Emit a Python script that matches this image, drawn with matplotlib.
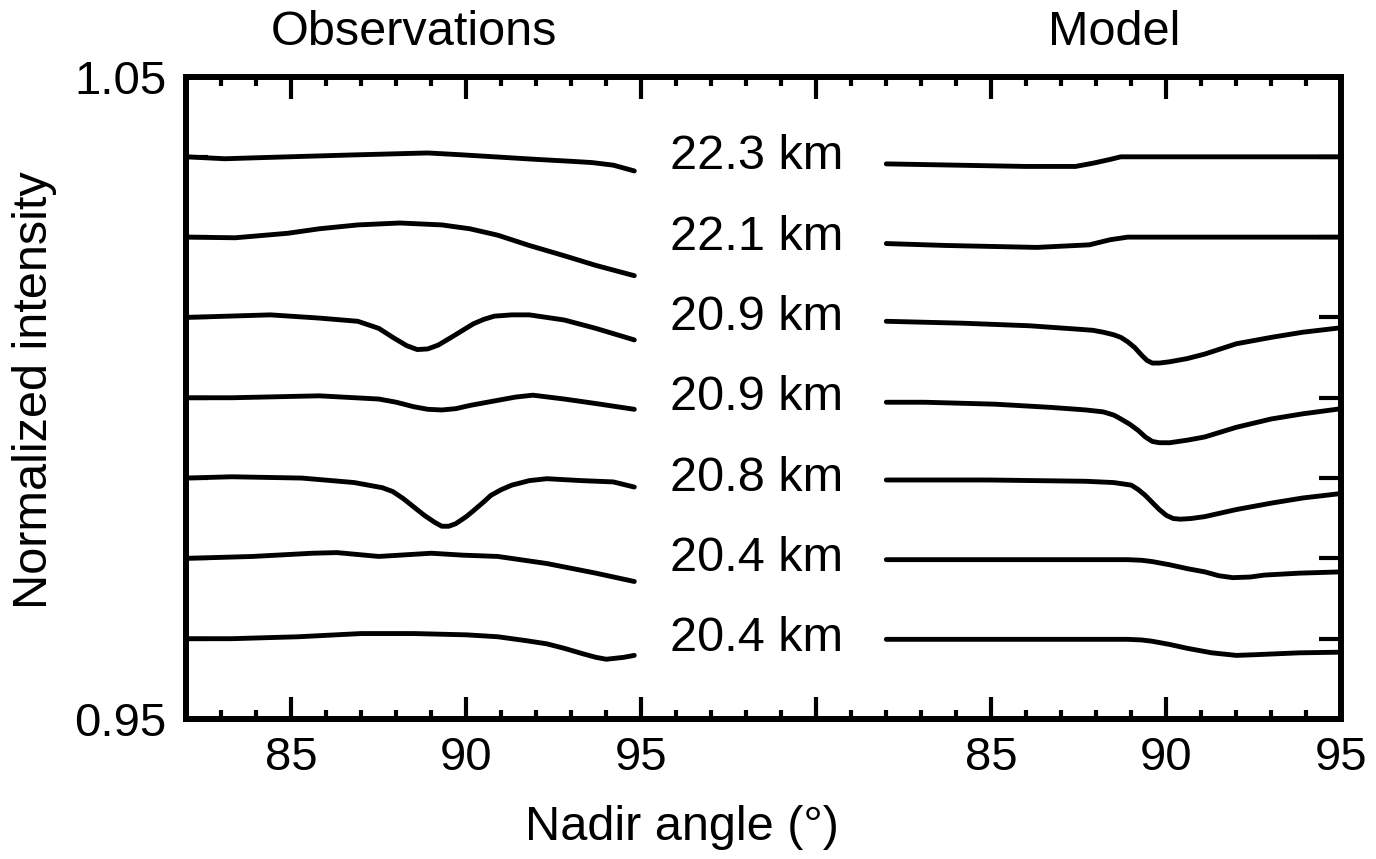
import matplotlib
matplotlib.use("Agg")
import matplotlib.pyplot as plt
import matplotlib.transforms as mtransforms
import numpy as np
from matplotlib.ticker import FixedFormatter, FixedLocator, MultipleLocator

plt.rcParams["font.family"] = ["Liberation Sans", "DejaVu Sans"]

# Altitudes (top to bottom) and vertical offsets of the stacked curves
altitude_labels = ["22.3 km", "22.1 km", "20.9 km", "20.9 km", "20.8 km", "20.4 km", "20.4 km"]
offsets = [0.0375, 0.025, 0.0125, 0.0, -0.0125, -0.025, -0.0375]

# Observations : nadir angle (°) / normalized intensity
obs1_x = [82.0, 83.1, 84.3, 86.8, 88.9, 89.9, 90.8, 92.0, 93.0, 93.6, 94.2, 94.8]
obs1_y = [1.0000, 0.9997, 0.9999, 1.0003, 1.0006, 1.0003, 1.0000, 0.9996, 0.9993, 0.9991, 0.9987, 0.9978]
obs2_x = [82.0, 83.4, 84.9, 85.8, 86.9, 88.1, 89.3, 90.1, 90.9, 91.8, 92.8, 93.7, 94.8]
obs2_y = [1.0000, 0.9999, 1.0006, 1.0013, 1.0019, 1.0022, 1.0019, 1.0013, 1.0003, 0.9987, 0.9971, 0.9956, 0.9940]
obs3_x = [82.0, 84.4, 85.8, 86.9, 87.5, 87.9, 88.3, 88.6, 88.9, 89.2, 89.6, 89.9, 90.2, 90.5, 90.8, 91.3,
          91.8, 92.8, 93.7, 94.8]
obs3_y = [1.0000, 1.0004, 0.9999, 0.9994, 0.9983, 0.9969, 0.9956, 0.9950, 0.9951, 0.9957, 0.9970, 0.9980,
          0.9990, 0.9997, 1.0002, 1.0004, 1.0004, 0.9996, 0.9983, 0.9965]
obs4_x = [82.0, 83.3, 85.8, 87.5, 88.0, 88.5, 88.9, 89.3, 89.7, 90.1, 90.5, 90.9, 91.4, 91.9, 92.8, 93.7, 94.8]
obs4_y = [1.0000, 1.0000, 1.0003, 0.9998, 0.9993, 0.9986, 0.9982, 0.9981, 0.9983, 0.9988, 0.9992, 0.9996,
          1.0001, 1.0004, 0.9998, 0.9991, 0.9982]
obs5_x = [82.0, 83.3, 85.3, 86.8, 87.6, 87.9, 88.2, 88.5, 88.8, 89.1, 89.3, 89.5, 89.7, 90.0, 90.2, 90.5,
          90.7, 91.0, 91.3, 91.8, 92.3, 93.3, 94.2, 94.8]
obs5_y = [1.0000, 1.0002, 1.0000, 0.9993, 0.9985, 0.9979, 0.9968, 0.9955, 0.9942, 0.9931, 0.9925, 0.9925,
          0.9929, 0.9940, 0.9949, 0.9963, 0.9973, 0.9982, 0.9989, 0.9996, 0.9999, 0.9996, 0.9994, 0.9986]
obs6_x = [82.0, 83.9, 85.6, 86.3, 87.5, 89.0, 89.9, 90.9, 92.3, 93.7, 94.8]
obs6_y = [1.0000, 1.0003, 1.0008, 1.0009, 1.0003, 1.0008, 1.0005, 1.0003, 0.9992, 0.9977, 0.9964]
obs7_x = [82.0, 83.3, 85.2, 87.0, 88.5, 90.0, 90.9, 91.7, 92.3, 92.8, 93.3, 93.7, 94.0, 94.5, 94.8]
obs7_y = [1.0000, 1.0000, 1.0003, 1.0008, 1.0008, 1.0006, 1.0003, 0.9997, 0.9992, 0.9985, 0.9977, 0.9971,
          0.9968, 0.9971, 0.9974]

# Modèle
mod1_x = [82.0, 84.0, 86.0, 87.4, 87.9, 88.4, 88.7, 95.0]
mod1_y = [0.9989, 0.9987, 0.9985, 0.9985, 0.9990, 0.9996, 1.0000, 1.0000]
mod2_x = [82.0, 83.7, 86.3, 87.8, 88.4, 88.9, 95.0]
mod2_y = [0.9990, 0.9987, 0.9984, 0.9988, 0.9996, 1.0000, 1.0000]
mod3_x = [82.0, 84.2, 86.1, 87.4, 87.9, 88.2, 88.5, 88.7, 88.9, 89.1, 89.3, 89.45, 89.6, 89.8, 90.1, 90.6,
          91.1, 92.0, 93.0, 93.9, 95.0]
mod3_y = [0.9994, 0.9991, 0.9987, 0.9982, 0.9980, 0.9977, 0.9973, 0.9969, 0.9962, 0.9953, 0.9941, 0.9933,
          0.9929, 0.9929, 0.9931, 0.9936, 0.9943, 0.9959, 0.9969, 0.9977, 0.9984]
mod4_x = [82.0, 83.1, 85.1, 86.7, 87.7, 88.2, 88.5, 88.7, 88.95, 89.2, 89.4, 89.6, 89.8, 90.1, 90.6, 91.1,
          92.0, 93.0, 93.9, 95.0]
mod4_y = [0.9993, 0.9993, 0.9990, 0.9985, 0.9981, 0.9978, 0.9973, 0.9967, 0.9959, 0.9949, 0.9939, 0.9932,
          0.9930, 0.9930, 0.9934, 0.9939, 0.9954, 0.9967, 0.9975, 0.9983]
mod5_x = [82.0, 84.9, 87.7, 88.5, 89.0, 89.2, 89.4, 89.6, 89.8, 90.0, 90.2, 90.4, 90.7, 91.1, 92.0, 93.0,
          93.9, 95.0]
mod5_y = [0.9997, 0.9997, 0.9995, 0.9993, 0.9989, 0.9982, 0.9973, 0.9962, 0.9951, 0.9942, 0.9937, 0.9936,
          0.9937, 0.9940, 0.9951, 0.9961, 0.9969, 0.9976]
mod6_x = [82.0, 88.9, 89.3, 89.6, 90.1, 90.6, 91.1, 91.5, 91.9, 92.4, 92.8, 93.8, 95.0]
mod6_y = [0.9998, 0.9998, 0.9997, 0.9995, 0.9990, 0.9984, 0.9979, 0.9973, 0.9970, 0.9971, 0.9974, 0.9977,
          0.9979]
mod7_x = [82.0, 88.9, 89.3, 89.6, 90.1, 90.6, 91.3, 92.0, 92.5, 93.8, 95.0]
mod7_y = [0.9999, 0.9999, 0.9998, 0.9996, 0.9991, 0.9985, 0.9978, 0.9974, 0.9975, 0.9978, 0.9979]

# Axe x continu : le panneau "Model" est décalé de 20° vers la droite
MODEL_SHIFT = 20.0
X_MIN, X_MAX = 82.0, 115.0
LINE_W = 3.5
FS = 35


def plot_curves(ax):
    obs = [(obs1_x, obs1_y), (obs2_x, obs2_y), (obs3_x, obs3_y), (obs4_x, obs4_y),
           (obs5_x, obs5_y), (obs6_x, obs6_y), (obs7_x, obs7_y)]
    mod = [(mod1_x, mod1_y), (mod2_x, mod2_y), (mod3_x, mod3_y), (mod4_x, mod4_y),
           (mod5_x, mod5_y), (mod6_x, mod6_y), (mod7_x, mod7_y)]
    for (ox, oy), (mx, my), off, label in zip(obs, mod, offsets, altitude_labels):
        ax.plot(ox, np.array(oy) + off, color="black", lw=LINE_W,
                solid_capstyle="round", solid_joinstyle="round")
        ax.plot(np.array(mx) + MODEL_SHIFT, np.array(my) + off, color="black", lw=LINE_W,
                solid_capstyle="round", solid_joinstyle="round")
        ax.text(98.3, 1.0 + off, label, ha="center", va="center", fontsize=FS)


def style_axes(ax):
    ax.set_xlim(X_MIN, X_MAX)
    ax.set_ylim(0.95, 1.05)

    ax.xaxis.set_major_locator(FixedLocator([85, 90, 95, 100, 105, 110, 115]))
    ax.xaxis.set_major_formatter(FixedFormatter(["85", "90", "95", "", "85", "90", "95"]))
    ax.xaxis.set_minor_locator(MultipleLocator(1))

    baselines = [1.0 + o for o in offsets]
    ax.yaxis.set_major_locator(FixedLocator([0.95] + baselines + [1.05]))
    ax.yaxis.set_major_formatter(FixedFormatter(["0.95"] + [""] * len(baselines) + ["1.05"]))

    ax.tick_params(axis="both", which="major", direction="in", length=16, width=3,
                   top=True, right=True, labelsize=34, colors="black")
    ax.tick_params(axis="x", which="major", pad=12)
    ax.tick_params(axis="y", which="major", pad=14)
    ax.tick_params(axis="x", which="minor", direction="in", length=6.5, width=3,
                   top=True, bottom=True)
    for sp in ax.spines.values():
        sp.set_linewidth(4.3)

    trans = mtransforms.blended_transform_factory(ax.transData, ax.transAxes)
    ax.text(88.5, 1.069, "Observations", transform=trans, ha="center", va="center", fontsize=FS)
    ax.text(88.5 + MODEL_SHIFT, 1.069, "Model", transform=trans, ha="center", va="center", fontsize=FS)


def main() -> None:
    fig = plt.figure(figsize=(13.76, 8.59), dpi=100)
    ax = fig.add_axes([186.3 / 1376, 1 - 719 / 859, 1155 / 1376, 642.5 / 859])

    plot_curves(ax)
    style_axes(ax)

    fig.text(35 / 1376, 1 - 390 / 859, "Normalized intensity", rotation=90,
             ha="center", va="center", fontsize=FS)
    fig.text(682 / 1376, 1 - 828 / 859, "Nadir angle (°)", ha="center", va="center", fontsize=FS)

    fig.savefig("out.png", dpi=100, facecolor="white")


if __name__ == "__main__":
    main()
